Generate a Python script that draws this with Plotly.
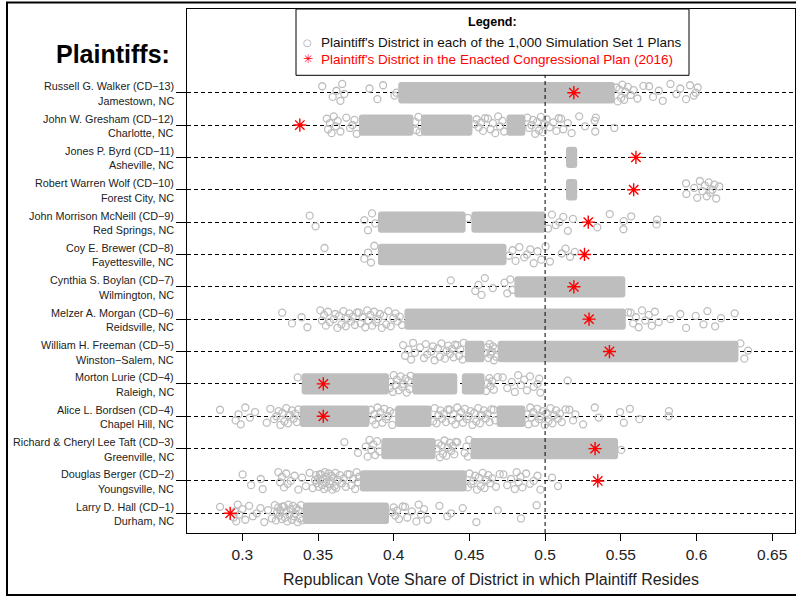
import plotly.graph_objects as go

# ---------------- data (rows listed top to bottom) ----------------
plaintiff_names = [
    "Russell G. Walker (CD−13)", "John W. Gresham (CD−12)", "Jones P. Byrd (CD−11)",
    "Robert Warren Wolf (CD−10)", "John Morrison McNeill (CD−9)", "Coy E. Brewer (CD−8)",
    "Cynthia S. Boylan (CD−7)", "Melzer A. Morgan (CD−6)", "William H. Freeman (CD−5)",
    "Morton Lurie (CD−4)", "Alice L. Bordsen (CD−4)", "Richard & Cheryl Lee Taft (CD−3)",
    "Douglas Berger (CD−2)", "Larry D. Hall (CD−1)",
]
plaintiff_cities = [
    "Jamestown, NC", "Charlotte, NC", "Asheville, NC", "Forest City, NC", "Red Springs, NC",
    "Fayettesville, NC", "Wilmington, NC", "Reidsville, NC", "Winston−Salem, NC",
    "Raleigh, NC", "Chapel Hill, NC", "Greenville, NC", "Youngsville, NC", "Durham, NC",
]
# Enacted 2016 plan: Republican vote share of plaintiff's district
enacted_share = [0.519, 0.338, 0.560, 0.5585, 0.5285, 0.526, 0.519, 0.529, 0.5425,
                 0.3535, 0.3535, 0.533, 0.5348, 0.292]

# Simulation Set 1: dense ranges (lo, hi) and individually visible plans
walker_bands = [(0.4030, 0.5460)]
walker_points = [0.3528, 0.3597, 0.3622, 0.3648, 0.3660, 0.3674, 0.3840, 0.3892, 0.3930, 0.4005,
                 0.4018, 0.5470, 0.5480, 0.5490, 0.5502, 0.5510, 0.5522, 0.5530, 0.5547, 0.5565,
                 0.5585, 0.5610, 0.5649, 0.5687, 0.5713, 0.5751, 0.5777, 0.5828, 0.5867, 0.5893,
                 0.5931, 0.5957, 0.5982, 0.5995, 0.6008]

gresham_bands = [(0.3770, 0.4130), (0.4180, 0.4520), (0.4745, 0.4870)]
gresham_points = [0.3558, 0.3566, 0.3578, 0.3590, 0.3604, 0.3619, 0.3630, 0.3648, 0.3687, 0.3712,
                  0.3728, 0.3741, 0.3756, 0.4142, 0.4150, 0.4163, 0.4171, 0.4535, 0.4548, 0.4561,
                  0.4577, 0.4590, 0.4603, 0.4622, 0.4640, 0.4655, 0.4671, 0.4690, 0.4702, 0.4718,
                  0.4730, 0.4882, 0.4895, 0.4910, 0.4921, 0.4935, 0.4948, 0.4960, 0.4972, 0.4985,
                  0.4998, 0.5010, 0.5030, 0.5055, 0.5075, 0.5090, 0.5106, 0.5120, 0.5150, 0.5175,
                  0.5225, 0.5264, 0.5328, 0.5331, 0.5335, 0.5457]

byrd_bands = [(0.5138, 0.5212)]
byrd_points = []

wolf_bands = [(0.5138, 0.5212)]
wolf_points = [0.5931, 0.5933, 0.5985, 0.6005, 0.6022, 0.6040, 0.6055, 0.6068, 0.6080, 0.6092,
               0.6105, 0.6118, 0.6130, 0.6150]

mcneill_bands = [(0.3896, 0.4475), (0.4513, 0.5003)]
mcneill_points = [0.3445, 0.3484, 0.3806, 0.3830, 0.3857, 0.3878, 0.4490, 0.5020, 0.5045, 0.5070,
                  0.5095, 0.5120, 0.5150, 0.5184, 0.5345, 0.5427, 0.5517, 0.5520, 0.5569, 0.5736,
                  0.5740]

brewer_bands = [(0.3896, 0.4745)]
brewer_points = [0.3543, 0.3806, 0.3831, 0.3850, 0.3872, 0.4760, 0.4785, 0.4805, 0.4830, 0.4862,
                 0.4880, 0.4902, 0.4925, 0.4950, 0.4975, 0.5003, 0.5032, 0.5110, 0.5135, 0.5165,
                 0.5196]

boylan_bands = [(0.4797, 0.5530)]
boylan_points = [0.4377, 0.4539, 0.4560, 0.4580, 0.4602, 0.4655, 0.4732, 0.4750, 0.4770, 0.4784]

morgan_bands = [(0.4071, 0.5533)]
morgan_points = [0.3263, 0.3328, 0.3392, 0.3430, 0.3515, 0.3526, 0.3540, 0.3552, 0.3566, 0.3578,
                 0.3604, 0.3615, 0.3628, 0.3640, 0.3655, 0.3668, 0.3683, 0.3694, 0.3706, 0.3719,
                 0.3730, 0.3744, 0.3757, 0.3770, 0.3782, 0.3795, 0.3812, 0.3825, 0.3833, 0.3846,
                 0.3858, 0.3871, 0.3884, 0.3896, 0.3909, 0.3922, 0.3934, 0.3950, 0.3965, 0.3980,
                 0.3998, 0.4012, 0.4025, 0.4040, 0.4055, 0.5548, 0.5565, 0.5582, 0.5600, 0.5618,
                 0.5640, 0.5662, 0.5685, 0.5705, 0.5725, 0.5750, 0.5828, 0.5893, 0.5931, 0.5995,
                 0.6046, 0.6072, 0.6123, 0.6162, 0.6252]

freeman_bands = [(0.4470, 0.4600), (0.4687, 0.6277)]
freeman_points = [0.4062, 0.4075, 0.4097, 0.4115, 0.4128, 0.4140, 0.4174, 0.4200, 0.4212, 0.4222,
                  0.4248, 0.4260, 0.4270, 0.4292, 0.4305, 0.4315, 0.4338, 0.4350, 0.4360, 0.4372,
                  0.4385, 0.4395, 0.4405, 0.4420, 0.4432, 0.4440, 0.4455, 0.4462, 0.4610, 0.4618,
                  0.4625, 0.4633, 0.4640, 0.4648, 0.4655, 0.4662, 0.4670, 0.4678, 0.6290, 0.6316,
                  0.6341]

lurie_bands = [(0.3392, 0.3969), (0.4123, 0.4420), (0.4450, 0.4600)]
lurie_points = [0.3366, 0.3975, 0.3982, 0.3995, 0.4000, 0.4012, 0.4020, 0.4033, 0.4045, 0.4055,
                0.4065, 0.4078, 0.4085, 0.4097, 0.4105, 0.4112, 0.4610, 0.4620, 0.4632, 0.4640,
                0.4650, 0.4661, 0.4687, 0.4720, 0.4750, 0.4780, 0.4800, 0.4822, 0.4840, 0.4862,
                0.4880, 0.4900, 0.4925, 0.4950, 0.4961, 0.4969, 0.5149]

bordsen_bands = [(0.3379, 0.3840), (0.4010, 0.4250), (0.4680, 0.4870)]
bordsen_points = [0.2853, 0.2956, 0.2975, 0.2990, 0.3020, 0.3050, 0.3084, 0.3161, 0.3185, 0.3210,
                  0.3225, 0.3240, 0.3252, 0.3265, 0.3278, 0.3290, 0.3302, 0.3315, 0.3328, 0.3340,
                  0.3350, 0.3360, 0.3370, 0.3848, 0.3860, 0.3872, 0.3880, 0.3893, 0.3900, 0.3912,
                  0.3925, 0.3938, 0.3950, 0.3962, 0.3975, 0.3990, 0.4000, 0.4260, 0.4270, 0.4283,
                  0.4295, 0.4308, 0.4320, 0.4332, 0.4345, 0.4358, 0.4370, 0.4383, 0.4395, 0.4408,
                  0.4420, 0.4432, 0.4445, 0.4458, 0.4470, 0.4483, 0.4495, 0.4508, 0.4520, 0.4532,
                  0.4545, 0.4558, 0.4570, 0.4583, 0.4595, 0.4608, 0.4620, 0.4633, 0.4645, 0.4660,
                  0.4670, 0.4880, 0.4890, 0.4902, 0.4910, 0.4922, 0.4935, 0.4948, 0.4960, 0.4972,
                  0.4985, 0.4998, 0.5010, 0.5022, 0.5035, 0.5048, 0.5060, 0.5072, 0.5085, 0.5098,
                  0.5110, 0.5135, 0.5160, 0.5185, 0.5200, 0.5251, 0.5328, 0.5354, 0.5495, 0.5520,
                  0.5560, 0.5623, 0.5816, 0.5818]

taft_bands = [(0.3918, 0.4277), (0.4508, 0.5482)]
taft_points = [0.3674, 0.3764, 0.3815, 0.3828, 0.3840, 0.3852, 0.3865, 0.3878, 0.3890, 0.3905,
               0.4285, 0.4295, 0.4305, 0.4315, 0.4325, 0.4335, 0.4348, 0.4360, 0.4370, 0.4380,
               0.4390, 0.4400, 0.4410, 0.4420, 0.4469, 0.4480, 0.4490, 0.4498, 0.5503]

berger_bands = [(0.3776, 0.4482)]
berger_points = [0.3002, 0.3058, 0.3122, 0.3135, 0.3238, 0.3250, 0.3262, 0.3275, 0.3290, 0.3300,
                 0.3320, 0.3345, 0.3370, 0.3395, 0.3420, 0.3445, 0.3465, 0.3481, 0.3486, 0.3492,
                 0.3500, 0.3505, 0.3513, 0.3520, 0.3527, 0.3533, 0.3540, 0.3545, 0.3552, 0.3558,
                 0.3564, 0.3570, 0.3578, 0.3585, 0.3590, 0.3595, 0.3603, 0.3610, 0.3615, 0.3620,
                 0.3632, 0.3645, 0.3658, 0.3670, 0.3683, 0.3695, 0.3708, 0.3720, 0.3733, 0.3745,
                 0.3755, 0.3764, 0.3770, 0.4490, 0.4500, 0.4512, 0.4525, 0.4538, 0.4550, 0.4563,
                 0.4575, 0.4588, 0.4600, 0.4613, 0.4625, 0.4638, 0.4650, 0.4675, 0.4700, 0.4725,
                 0.4750, 0.4775, 0.4800, 0.4812, 0.4825, 0.4838, 0.4850, 0.4875, 0.4900, 0.4925,
                 0.4950, 0.4969, 0.5046, 0.5085]

hall_bands = [(0.3400, 0.3969)]
hall_points = [0.2853, 0.2943, 0.2952, 0.2960, 0.2970, 0.2980, 0.3000, 0.3020, 0.3045, 0.3070,
               0.3095, 0.3120, 0.3145, 0.3170, 0.3195, 0.3215, 0.3222, 0.3230, 0.3238, 0.3245,
               0.3252, 0.3260, 0.3268, 0.3275, 0.3282, 0.3290, 0.3298, 0.3305, 0.3312, 0.3320,
               0.3328, 0.3335, 0.3342, 0.3350, 0.3358, 0.3365, 0.3372, 0.3380, 0.3387, 0.3395,
               0.3990, 0.4000, 0.4010, 0.4022, 0.4035, 0.4060, 0.4075, 0.4090, 0.4120, 0.4150,
               0.4165, 0.4180, 0.4200, 0.4225, 0.4302, 0.4354, 0.4379, 0.4456, 0.4546, 0.4687,
               0.4841, 0.4944]

x_tick_vals = [0.3, 0.35, 0.4, 0.45, 0.5, 0.55, 0.6, 0.65]
x_tick_text = ["0.3", "0.35", "0.4", "0.45", "0.5", "0.55", "0.6", "0.65"]

row_bands = [walker_bands, gresham_bands, byrd_bands, wolf_bands, mcneill_bands, brewer_bands,
             boylan_bands, morgan_bands, freeman_bands, lurie_bands, bordsen_bands, taft_bands,
             berger_bands, hall_bands]
row_points = [walker_points, gresham_points, byrd_points, wolf_points, mcneill_points,
              brewer_points, boylan_points, morgan_points, freeman_points, lurie_points,
              bordsen_points, taft_points, berger_points, hall_points]

# ---------------- styling / layout helpers ----------------
FONT = "Liberation Sans, Arial, sans-serif"
GREY = "#BEBEBE"
JITTER = [0.20, -0.13, 0.06, -0.25, 0.27, -0.04, 0.13, -0.20, 0.23, -0.09, 0.0, 0.16,
          -0.27, 0.10, -0.16, 0.25, -0.22, 0.03, 0.18, -0.07, 0.08, -0.18, 0.21]

n_rows = len(plaintiff_names)
row_y = [n_rows - k for k in range(n_rows)]

bar_y, bar_base, bar_len = [], [], []
for yk, bands in zip(row_y, row_bands):
    for lo, hi in bands:
        bar_y.append(yk)
        bar_base.append(lo)
        bar_len.append(hi - lo)

pt_x, pt_y = [], []
for yk, pts in zip(row_y, row_points):
    for i, v in enumerate(pts):
        pt_x.append(v)
        pt_y.append(yk + JITTER[i % len(JITTER)])

fig = go.Figure()
fig.add_trace(go.Bar(
    y=bar_y, x=bar_len, base=bar_base, orientation="h", width=0.66,
    marker=dict(color=GREY, line=dict(width=0), cornerradius=3),
    showlegend=False, hoverinfo="skip"))
fig.add_trace(go.Scatter(
    x=pt_x, y=pt_y, mode="markers", showlegend=False,
    marker=dict(symbol="circle-open", size=7, color=GREY, line=dict(width=1.3))))
fig.add_trace(go.Scatter(
    x=enacted_share, y=row_y, mode="markers", showlegend=False,
    marker=dict(symbol="asterisk-open", size=11, color="red", line=dict(width=1.4))))

# pixel -> paper helpers (plot area: x 187..795, y 9..533)
def px(x):
    return (x - 187) / 608.0

def py(y):
    return (533 - y) / 524.0

annotations = []
for yk, nm, ct in zip(row_y, plaintiff_names, plaintiff_cities):
    annotations.append(dict(x=px(176), xref="paper", y=yk, yref="y", yshift=6.5,
                            text=nm, showarrow=False, xanchor="right", yanchor="middle",
                            font=dict(size=10.8, color="#222")))
    annotations.append(dict(x=px(176), xref="paper", y=yk, yref="y", yshift=-8,
                            text=ct, showarrow=False, xanchor="right", yanchor="middle",
                            font=dict(size=10.8, color="#222")))

annotations += [
    dict(x=px(112.5), y=py(54), xref="paper", yref="paper", text="<b>Plaintiffs:</b>",
         showarrow=False, xanchor="center", yanchor="middle", font=dict(size=25, color="black")),
    dict(x=px(492), y=py(21.7), xref="paper", yref="paper", text="<b>Legend:</b>",
         showarrow=False, xanchor="center", yanchor="middle", font=dict(size=12.5, color="black")),
    dict(x=px(307.7), y=py(42.7), xref="paper", yref="paper", text="○",
         showarrow=False, xanchor="center", yanchor="middle",
         font=dict(size=10, color="#A8A8A8", family="DejaVu Sans")),
    dict(x=px(319), y=py(42.7), xref="paper", yref="paper",
         text="Plaintiff's District in each of the 1,000 Simulation Set 1 Plans",
         showarrow=False, xanchor="left", yanchor="middle", font=dict(size=13.5, color="#111")),
    dict(x=px(307.7), y=py(59.3), xref="paper", yref="paper", text="✳",
         showarrow=False, xanchor="center", yanchor="middle",
         font=dict(size=12, color="red", family="DejaVu Sans")),
    dict(x=px(319), y=py(59.3), xref="paper", yref="paper",
         text="Plaintiff's District in the Enacted Congressional Plan (2016)",
         showarrow=False, xanchor="left", yanchor="middle", font=dict(size=13.5, color="red")),
]

shapes = [
    # legend box
    dict(type="rect", xref="paper", yref="paper", x0=px(296), x1=px(689), y0=py(75.3), y1=1.0,
         fillcolor="white", line=dict(color="black", width=1), layer="above"),
    # outer frame of the figure
    dict(type="rect", xref="paper", yref="paper", x0=px(7), x1=px(800), y0=py(595), y1=py(2.5),
         fillcolor="rgba(0,0,0,0)", line=dict(color="black", width=2), layer="above"),
]

fig.add_vline(x=0.5, line=dict(color="black", width=1, dash="4px,3px"), layer="above")

fig.update_layout(
    width=796, height=596,
    margin=dict(l=187, r=1, t=9, b=63, autoexpand=False),
    plot_bgcolor="white", paper_bgcolor="white",
    barmode="overlay", showlegend=False,
    font=dict(family=FONT, color="black"),
    annotations=annotations,
    shapes=list(fig.layout.shapes) + shapes,
)
fig.update_xaxes(
    range=[0.26347, 0.66506], tickvals=x_tick_vals, ticktext=x_tick_text,
    ticks="outside", ticklen=7, tickwidth=1, tickcolor="black",
    showgrid=False, zeroline=False, showline=True, linecolor="black", linewidth=1, mirror=True,
    tickfont=dict(size=15.5, color="#222"),
    title=dict(text="Republican Vote Share of District in which Plaintiff Resides",
               font=dict(size=16, color="#222"), standoff=12),
    automargin=False,
)
fig.update_yaxes(
    range=[0.391, 16.587], tickvals=row_y, showticklabels=False,
    ticks="outside", ticklen=10, tickwidth=1, tickcolor="black",
    showgrid=True, gridcolor="black", gridwidth=1, griddash="4px,3px",
    zeroline=False, showline=True, linecolor="black", linewidth=1, mirror=True,
    automargin=False,
)

fig.write_html("out.html", config={"displayModeBar": False},
               post_script="document.body.style.margin='0';")
